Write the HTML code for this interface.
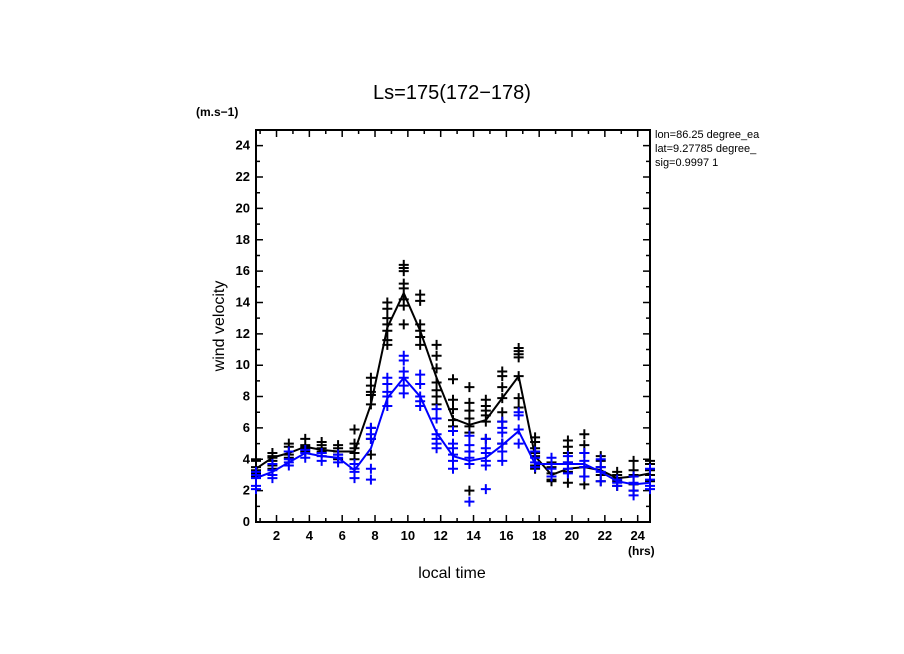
<!DOCTYPE html>
<html><head><meta charset="utf-8"><style>
body{margin:0;background:#fff;}
svg{display:block;font-family:"Liberation Sans",sans-serif;}
</style></head><body>
<svg id="chart" width="904" height="654" viewBox="0 0 904 654">
<text x="452" y="99" font-size="20" text-anchor="middle">Ls=175(172−178)</text>
<text x="196" y="116" font-size="12" font-weight="bold">(m.s−1)</text>
<text x="224" y="326" font-size="16" text-anchor="middle" transform="rotate(-90 224 326)">wind velocity</text>
<text x="452" y="578" font-size="16" text-anchor="middle">local time</text>
<text x="628" y="555" font-size="12" font-weight="bold">(hrs)</text>
<clipPath id="infoclip"><rect x="650" y="120" width="129" height="60"/></clipPath>
<g font-size="11" clip-path="url(#infoclip)">
<text x="655" y="138">lon=86.25 degree_ea</text>
<text x="655" y="152">lat=9.27785 degree_</text>
<text x="655" y="166">sig=0.9997 1</text>
</g>
<g id="axes"></g>
<g id="marks"></g>
</svg>
<script>
const hours = [0.75,1.75,2.75,3.75,4.75,5.75,6.75,7.75,8.75,9.75,10.75,11.75,12.75,13.75,14.75,15.75,16.75,17.75,18.75,19.75,20.75,21.75,22.75,23.75,24.75];
const blackMean = [3.4,4.1,4.4,4.8,4.6,4.5,4.5,7.5,12.4,14.6,12.2,9.2,6.6,6.2,6.5,7.9,9.3,4.2,3.0,3.4,3.5,3.3,2.8,2.9,3.1];
const blueMean = [2.8,3.2,3.8,4.4,4.2,4.1,3.3,4.7,7.9,9.2,8.0,5.7,4.2,3.9,4.1,4.9,5.8,3.7,3.7,3.7,3.7,3.2,2.6,2.4,2.5];
const blackPts = [[4.0,3.9,3.5,3.3,3.1,2.9],[4.4,4.2,4.1,3.9,3.6,3.4],[5.0,4.8,4.5,4.3,4.1],[5.3,4.9,4.8,4.7,4.5],[5.1,4.9,4.7,4.5,4.4],[4.9,4.7,4.5,4.3,4.0],[5.9,5.0,4.7,4.4,4.0,3.7],[9.2,8.7,8.3,8.1,7.5,6.0,5.3,4.3],[14.0,13.6,13.0,12.6,12.2,11.6,11.3],[16.4,16.2,16.0,15.2,14.9,14.2,13.8,12.6],[14.5,14.1,12.6,12.2,11.8,11.3],[11.3,10.6,9.8,8.9,8.4,8.0,7.5],[9.1,7.8,7.2,6.5,6.1],[8.6,7.6,7.1,6.6,6.1,5.7,2.0],[7.8,7.4,7.1,6.8,6.4,5.3],[9.6,9.3,8.6,7.9,7.0,6.4,5.0],[11.1,10.9,10.7,10.5,9.3,7.9,7.3],[5.4,5.1,4.7,4.4,4.2,3.6,3.4],[3.8,3.5,3.1,2.7,2.6],[5.2,4.8,4.4,3.8,3.2,2.5],[5.6,4.9,4.4,3.5,2.9,2.4],[4.2,3.9,3.5,3.0,2.6],[3.2,3.0,2.8,2.6,2.3],[3.9,3.3,3.0,2.4,2.0],[3.9,3.7,3.3,3.0,2.6]];
const bluePts = [[3.2,3.0,2.8,2.3,2.1],[3.7,3.3,3.0,2.8],[4.5,4.0,3.8,3.6],[4.6,4.4,4.1],[4.4,4.2,3.9],[4.3,4.1,3.8],[3.7,3.4,3.2,2.8],[6.0,5.6,5.3,3.4,2.7],[9.2,8.8,8.3,8.0,7.4],[10.6,10.3,9.6,9.2,8.7,8.2],[9.4,8.8,8.0,7.7,7.4],[7.2,6.6,5.6,5.3,5.0,4.7],[5.8,5.0,4.7,4.3,3.9,3.4],[5.5,4.9,4.5,4.1,3.7,1.3],[5.3,4.7,4.4,3.9,3.6,2.1],[6.4,6.0,5.7,5.0,4.5,3.9],[7.0,6.8,5.9,5.0],[4.5,4.1,3.8,3.5],[4.1,3.7,3.4,2.9],[4.2,3.8,3.4,3.1],[4.4,3.9,3.5,2.9],[4.0,3.5,3.2,2.6],[2.7,2.5,2.3],[2.9,2.5,2.0,1.7],[3.4,2.7,2.3,2.1]];
const yTicks = [0,2,4,6,8,10,12,14,16,18,20,22,24];
const xTicks = [2,4,6,8,10,12,14,16,18,20,22,24];

const X0=256, X1=650, Y0=522, Y1=130, XMIN=0.75, XMAX=24.75, YMIN=0, YMAX=25;
const sx = v => X0 + (v-XMIN)/(XMAX-XMIN)*(X1-X0);
const sy = v => Y0 - (v-YMIN)/(YMAX-YMIN)*(Y0-Y1);
const NS='http://www.w3.org/2000/svg';
function mk(tag, attrs, parent){const e=document.createElementNS(NS,tag);for(const k in attrs)e.setAttribute(k,attrs[k]);parent.appendChild(e);return e;}
const axes=document.getElementById('axes'), marks=document.getElementById('marks');

const frame = mk('rect',{x:X0,y:Y1,width:X1-X0,height:Y0-Y1,fill:'none',stroke:'#000','stroke-width':2},axes);


let tp='';
for(let v=1; v<=25; v++){const y=sy(v);const L=(v%2===0)?7:4;tp+=`M${X0},${y}h${L}M${X1},${y}h${-L}`;}
for(let v=1; v<=24; v++){const x=sx(v);const L=(v%2===0)?7:4;tp+=`M${x},${Y0}v${-L}M${x},${Y1}v${L}`;}
const ticks=mk('path',{d:tp,stroke:'#000','stroke-width':1.5,fill:'none'},axes);


yTicks.forEach(v=>{
  const t=mk('text',{x:X0-6,y:sy(v)+4,'font-size':13,'font-weight':'bold','text-anchor':'end'},axes);
  t.textContent=v;
  
  
});
xTicks.forEach(v=>{
  const t=mk('text',{x:sx(v),y:Y0+18,'font-size':13,'font-weight':'bold','text-anchor':'middle'},axes);
  t.textContent=v;
  
  
});

function drawSeries(pts, mean, color, name){
  let d='';
  pts.forEach((arr,i)=>arr.forEach(v=>{const x=sx(hours[i]),y=sy(v);d+=`M${x-5},${y}h10M${x},${y-5}v10`;}));
  const p=mk('path',{d:d,stroke:color,'stroke-width':2,fill:'none'},marks);
  
  
  const line=mk('polyline',{points:mean.map((v,i)=>sx(hours[i])+','+sy(v)).join(' '),stroke:color,'stroke-width':2,fill:'none'},marks);
  
  
}
drawSeries(blackPts, blackMean, '#000', 'black');
drawSeries(bluePts, blueMean, '#0000ff', 'blue');
</script>
</body></html>
